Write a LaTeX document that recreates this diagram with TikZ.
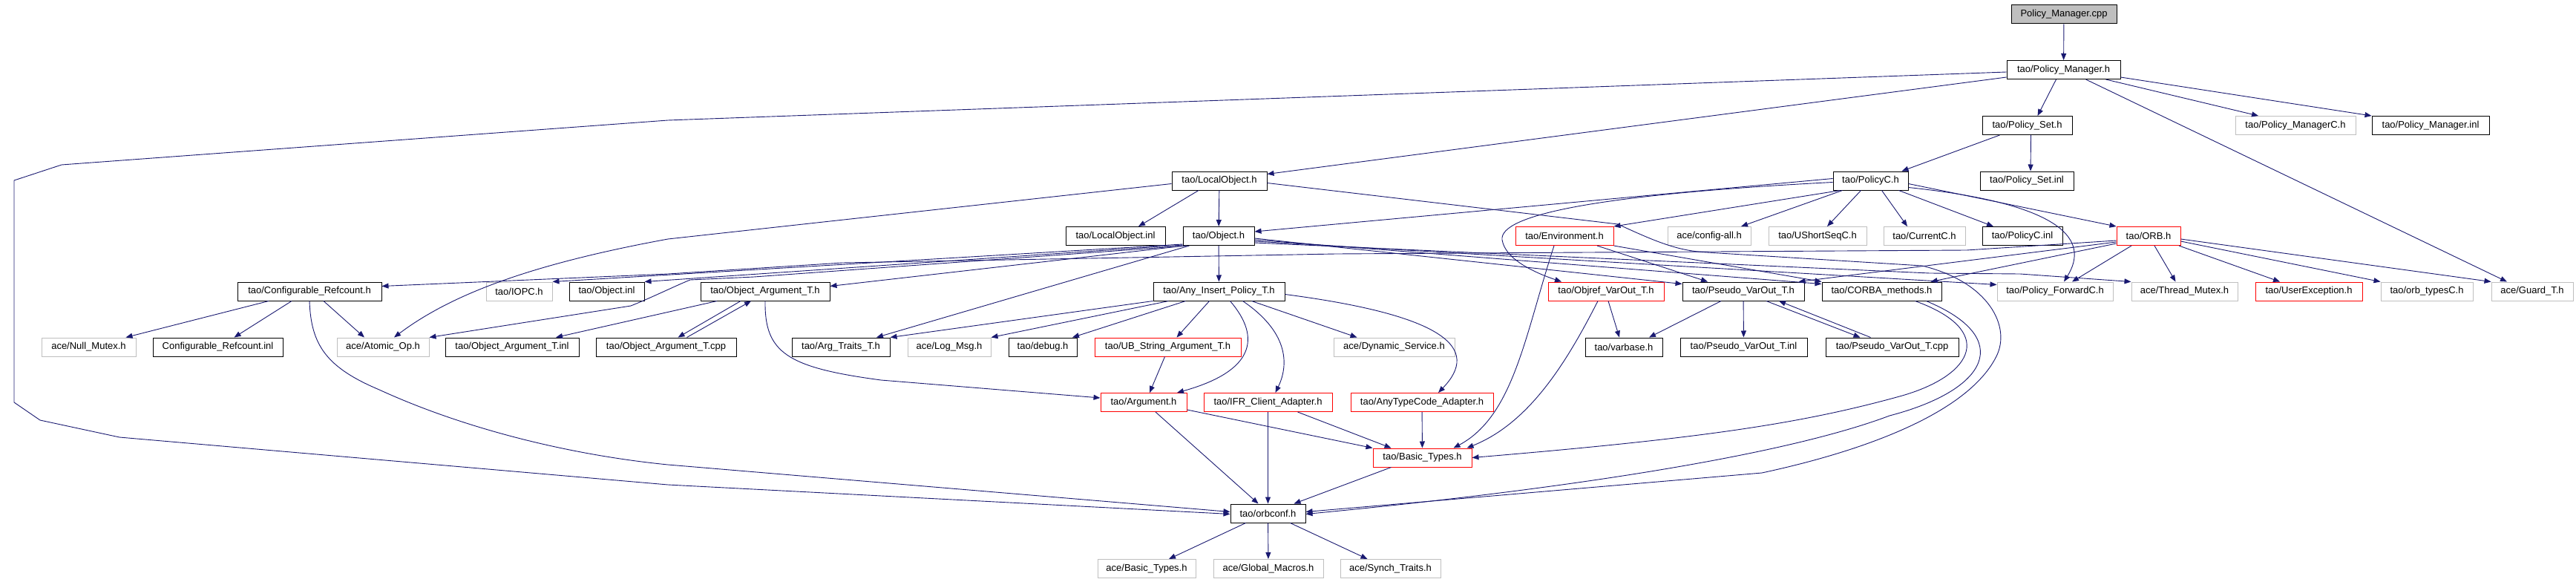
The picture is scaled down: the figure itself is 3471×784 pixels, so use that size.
\documentclass[tikz,border=0pt]{standalone}
\usepackage{fontspec}
\setmainfont{Liberation Sans}
\usepackage{tikz}
\usetikzlibrary{arrows.meta}
\definecolor{edgeblue}{HTML}{191970}
\definecolor{boxgray}{HTML}{BFBFBF}
\tikzset{
  hdr/.style={draw=black, line width=1pt, inner sep=0pt, minimum height=25pt, font=\fontsize{13pt}{15pt}\selectfont},
  sys/.style={hdr, draw=boxgray},
  cut/.style={hdr, draw=red},
  src/.style={hdr, fill=boxgray},
  dep/.style={draw=edgeblue, line width=0.9pt, -{Triangle[length=9pt,width=7pt]}},
}

\begin{document}
\begin{tikzpicture}[x=1pt,y=-1pt]
\useasboundingbox (0,0) rectangle (3471,784);
\node[src, minimum width=142pt] (root) at (2781,19.5) {Policy\_Manager.cpp};
\node[hdr, minimum width=153pt] (pmh) at (2780.5,94) {tao/Policy\_Manager.h};
\node[hdr, minimum width=121pt] (psh) at (2731.5,169) {tao/Policy\_Set.h};
\node[sys, minimum width=162pt] (pmc) at (3093,169) {tao/Policy\_ManagerC.h};
\node[hdr, minimum width=158pt] (pminl) at (3275,169) {tao/Policy\_Manager.inl};
\node[hdr, minimum width=128pt] (loh) at (1643,243.5) {tao/LocalObject.h};
\node[hdr, minimum width=101pt] (pch) at (2520.5,243.5) {tao/PolicyC.h};
\node[hdr, minimum width=126pt] (psinl) at (2731,243.5) {tao/Policy\_Set.inl};
\node[hdr, minimum width=134pt] (loinl) at (1503,318) {tao/LocalObject.inl};
\node[hdr, minimum width=96pt] (oh) at (1642,318) {tao/Object.h};
\node[cut, minimum width=132pt] (env) at (2108,318) {tao/Environment.h};
\node[sys, minimum width=112pt] (config) at (2303,318) {ace/config-all.h};
\node[sys, minimum width=132pt] (ushort) at (2449,318) {tao/UShortSeqC.h};
\node[sys, minimum width=110pt] (current) at (2593,318) {tao/CurrentC.h};
\node[hdr, minimum width=108pt] (pcinl) at (2725,318) {tao/PolicyC.inl};
\node[cut, minimum width=86pt] (orb) at (2895,318) {tao/ORB.h};
\node[hdr, minimum width=194pt] (confrc) at (417,392.5) {tao/Configurable\_Refcount.h};
\node[sys, minimum width=89pt] (iopc) at (699.5,392.5) {tao/IOPC.h};
\node[hdr, minimum width=101pt] (oinl) at (817.5,392.5) {tao/Object.inl};
\node[hdr, minimum width=174pt] (oargh) at (1031,392.5) {tao/Object\_Argument\_T.h};
\node[hdr, minimum width=177pt] (anyins) at (1642.5,392.5) {tao/Any\_Insert\_Policy\_T.h};
\node[cut, minimum width=156pt] (objref) at (2164,392.5) {tao/Objref\_VarOut\_T.h};
\node[hdr, minimum width=164pt] (pseudo) at (2349,392.5) {tao/Pseudo\_VarOut\_T.h};
\node[hdr, minimum width=161pt] (corba) at (2535.5,392.5) {tao/CORBA\_methods.h};
\node[sys, minimum width=156pt] (pfwd) at (2769,392.5) {tao/Policy\_ForwardC.h};
\node[sys, minimum width=143pt] (thread) at (2943.5,392.5) {ace/Thread\_Mutex.h};
\node[cut, minimum width=144pt] (userex) at (3111,392.5) {tao/UserException.h};
\node[sys, minimum width=124pt] (orbtypes) at (3270,392.5) {tao/orb\_typesC.h};
\node[sys, minimum width=110pt] (guard) at (3412,392.5) {ace/Guard\_T.h};
\node[sys, minimum width=127pt] (nullm) at (119.5,467.5) {ace/Null\_Mutex.h};
\node[hdr, minimum width=175pt] (confinl) at (293.5,467.5) {Configurable\_Refcount.inl};
\node[sys, minimum width=124pt] (atomic) at (516,467.5) {ace/Atomic\_Op.h};
\node[hdr, minimum width=180pt] (oarginl) at (690,467.5) {tao/Object\_Argument\_T.inl};
\node[hdr, minimum width=189pt] (oargcpp) at (897.5,467.5) {tao/Object\_Argument\_T.cpp};
\node[hdr, minimum width=132pt] (argtraits) at (1133,467.5) {tao/Arg\_Traits\_T.h};
\node[sys, minimum width=112pt] (logmsg) at (1279,467.5) {ace/Log\_Msg.h};
\node[hdr, minimum width=92pt] (debug) at (1405,467.5) {tao/debug.h};
\node[cut, minimum width=197pt] (ubstr) at (1573.5,467.5) {tao/UB\_String\_Argument\_T.h};
\node[sys, minimum width=163pt] (dynamic) at (1878.5,467.5) {ace/Dynamic\_Service.h};
\node[hdr, minimum width=104pt] (varbase) at (2188,467.5) {tao/varbase.h};
\node[hdr, minimum width=171pt] (pseudoinl) at (2349.5,467.5) {tao/Pseudo\_VarOut\_T.inl};
\node[hdr, minimum width=179pt] (pseudocpp) at (2549.5,467.5) {tao/Pseudo\_VarOut\_T.cpp};
\node[cut, minimum width=116pt] (argument) at (1541,542) {tao/Argument.h};
\node[cut, minimum width=173pt] (ifr) at (1708.5,542) {tao/IFR\_Client\_Adapter.h};
\node[cut, minimum width=192pt] (anytc) at (1916,542) {tao/AnyTypeCode\_Adapter.h};
\node[cut, minimum width=133pt] (basic) at (1916.5,616.5) {tao/Basic\_Types.h};
\node[hdr, minimum width=101pt] (orbconf) at (1708.5,691.5) {tao/orbconf.h};
\node[sys, minimum width=132pt] (acebasic) at (1545,766) {ace/Basic\_Types.h};
\node[sys, minimum width=148pt] (global) at (1709,766) {ace/Global\_Macros.h};
\node[sys, minimum width=135pt] (synch) at (1873.5,766) {ace/Synch\_Traits.h};

\draw[dep] (root) -- (pmh);
\draw[dep] ([xshift=-10pt]pmh.south) -- ([xshift=14pt]psh.north);
\draw[dep] ([xshift=57pt]pmh.south) -- ([xshift=-50pt]pmc.north);
\draw[dep] ([yshift=-10pt]pmh.east) -- (pminl.north west);
\draw[dep] ([xshift=30pt]pmh.south) -- ([xshift=-34pt]guard.north);
\draw[dep] ([yshift=-10pt]pmh.west) -- ([yshift=9pt]loh.east);
\draw[dep] ([yshift=-3pt]pmh.west) -- (900,162) -- (83,222) -- (19,243) -- (19,542) -- (54,566) -- (161,589) -- (900,653) -- ([yshift=-1pt]orbconf.west);
\draw[dep] ([xshift=5pt]psh.south) -- ([xshift=5pt]psinl.north);
\draw[dep] ([xshift=-37pt]psh.south) -- ([xshift=42pt]pch.north);
\draw[dep] ([xshift=-28pt]loh.south) -- ([xshift=31pt]loinl.north);
\draw[dep] (loh) -- (oh);
\draw[dep] ([yshift=-4pt]loh.west) -- (900,322) .. controls (720,355) and (610,395) .. ([xshift=15pt]atomic.north);
\draw[dep] ([yshift=-3pt]loh.east) -- (2180,302) .. controls (2230,325) and (2260,338) .. (2300,340) -- (2590,358) .. controls (2680,380) and (2710,440) .. (2690,480) .. controls (2650,560) and (2500,610) .. (2374,637) -- ([yshift=2pt]orbconf.east);
\draw[dep] ([yshift=3pt]pch.west) -- ([yshift=6pt]oh.east);
\draw[dep] ([xshift=10pt]pch.south west) -- (env.north east);
\draw[dep] ([xshift=-38pt]pch.south) -- ([xshift=43pt]config.north);
\draw[dep] ([xshift=-13pt]pch.south) -- ([xshift=13pt]ushort.north);
\draw[dep] ([xshift=15pt]pch.south) -- ([xshift=-23pt]current.north);
\draw[dep] ([xshift=38pt]pch.south) -- ([xshift=-39pt]pcinl.north);
\draw[dep] ([yshift=-4pt]pch.east) -- (orb.north west);
\draw[dep] ([yshift=-9pt]pch.east) .. controls (2785,275) and (2815,325) .. ([xshift=12pt]pfwd.north);
\draw[dep] ([yshift=-2pt]pch.west) .. controls (2150,262) and (2020,290) .. (2024,323) .. controls (2028,350) and (2070,368) .. ([xshift=-60pt]objref.north);
\draw[dep] ([yshift=-6pt]orb.west) -- (2650,337) -- (1800,342) -- (1135,354) -- (900,369) -- ([yshift=7pt]confrc.east);
\draw[dep] ([yshift=-8pt]orb.west) -- ([xshift=-8pt]pseudo.north east);
\draw[dep] ([yshift=-10pt]orb.west) -- ([xshift=-15pt]corba.north east);
\draw[dep] ([xshift=-23pt]orb.south) -- ([xshift=23pt]pfwd.north);
\draw[dep] ([xshift=8pt]orb.south) -- ([xshift=-12pt]thread.north);
\draw[dep] ([xshift=41pt]orb.south) -- ([xshift=-39pt]userex.north);
\draw[dep] ([yshift=-7pt]orb.east) -- (orbtypes.north west);
\draw[dep] ([yshift=-4pt]orb.east) -- (guard.north west);
\draw[dep] ([yshift=2pt]oh.south west) -- (iopc.north east);
\draw[dep] ([yshift=1pt]oh.south west) -- (oinl.north east);
\draw[dep] ([xshift=3pt]oh.south west) -- ([yshift=7pt]oargh.east);
\draw[dep] ([xshift=9pt]oh.south west) -- ([xshift=48pt]argtraits.north);
\draw[dep] ([xshift=6pt]oh.south west) -- (1016,373) -- (930,377) .. controls (910,385) and (880,400) .. (850,412) -- (atomic.north east);
\draw[dep] (oh) -- (anyins);
\draw[dep] ([yshift=-3pt]oh.east) -- ([yshift=10pt]pseudo.west);
\draw[dep] ([yshift=-5pt]oh.east) -- ([yshift=10pt]corba.west);
\draw[dep] ([yshift=-7pt]oh.east) -- ([yshift=9pt]pfwd.west);
\draw[dep] ([yshift=-9pt]oh.east) -- (2600,368) -- (2722,369) -- (thread.north west);
\draw[dep] ([xshift=44pt]env.south) -- ([xshift=-48pt]pseudo.north);
\draw[dep] (env.south east) -- (corba.north west);
\draw[dep] ([xshift=-14pt]env.south) .. controls (2055,450) and (2040,560) .. ([xshift=42pt]basic.north);
\draw[dep] ([xshift=3pt]objref.south) -- ([xshift=-6pt]varbase.north);
\draw[dep] ([xshift=-11pt]objref.south) .. controls (2110,490) and (2060,570) .. ([xshift=60pt]basic.north);
\draw[dep] ([xshift=-30pt]pseudo.south) -- ([xshift=34pt]varbase.north);
\draw[dep] (pseudo) -- (pseudoinl);
\draw[dep] ([xshift=31pt]pseudo.south) -- ([xshift=-43pt]pseudocpp.north);
\draw[dep] ([xshift=-29pt]pseudocpp.north) -- ([xshift=48pt]pseudo.south);
\draw[dep] ([xshift=45pt]corba.south) .. controls (2690,445) and (2660,505) .. (2563,533) .. controls (2430,570) and (2300,590) .. (basic.east);
\draw[dep] ([xshift=60pt]corba.south) .. controls (2715,455) and (2680,525) .. (2546,560) .. controls (2400,615) and (2100,660) .. ([yshift=-1pt]orbconf.east);
\draw[dep] ([xshift=-55pt]confrc.south) -- ([xshift=50pt]nullm.north);
\draw[dep] ([xshift=-24pt]confrc.south) -- ([xshift=22pt]confinl.north);
\draw[dep] ([xshift=19pt]confrc.south) -- ([xshift=-25pt]atomic.north);
\draw[dep] (confrc.south) .. controls (419,465) and (440,495) .. (511,525) .. controls (620,575) and (760,612) .. (900,626) -- ([yshift=2pt]orbconf.west);
\draw[dep] ([xshift=-65pt]oargh.south) -- ([xshift=59pt]oarginl.north);
\draw[dep] ([xshift=-33pt]oargh.south) -- ([xshift=16pt]oargcpp.north);
\draw[dep] ([xshift=28pt]oargcpp.north) -- ([xshift=-19pt]oargh.south);
\draw[dep] (oargh.south) .. controls (1030,475) and (1060,495) .. (1187,512) -- ([yshift=6pt]argument.west);
\draw[dep] (anyins.south west) -- (argtraits.north east);
\draw[dep] ([xshift=-68pt]anyins.south) -- (logmsg.north east);
\draw[dep] ([xshift=-45pt]anyins.south) -- ([xshift=40pt]debug.north);
\draw[dep] ([xshift=-13pt]anyins.south) -- ([xshift=12pt]ubstr.north);
\draw[dep] ([xshift=15pt]anyins.south) .. controls (1700,455) and (1690,500) .. ([xshift=45pt]argument.north);
\draw[dep] ([xshift=32pt]anyins.south) .. controls (1740,450) and (1735,495) .. ([xshift=10pt]ifr.north);
\draw[dep] ([xshift=44pt]anyins.south) -- ([xshift=-50pt]dynamic.north);
\draw[dep] ([yshift=-4pt]anyins.east) .. controls (1950,425) and (1995,470) .. ([xshift=22pt]anytc.north);
\draw[dep] ([xshift=-4pt]ubstr.south) -- ([xshift=8pt]argument.north);
\draw[dep] ([xshift=16pt]argument.south) -- ([xshift=-13pt]orbconf.north);
\draw[dep] ([yshift=-10pt]argument.east) -- (basic.north west);
\draw[dep] (ifr) -- (orbconf);
\draw[dep] ([xshift=40pt]ifr.south) -- ([xshift=-42pt]basic.north);
\draw[dep] (anytc) -- (basic);
\draw[dep] ([xshift=-42pt]basic.south) -- ([xshift=35pt]orbconf.north);
\draw[dep] ([xshift=-30pt]orbconf.south) -- ([xshift=30pt]acebasic.north);
\draw[dep] (orbconf) -- (global);
\draw[dep] ([xshift=30pt]orbconf.south) -- ([xshift=-31pt]synch.north);
\end{tikzpicture}
\end{document}
